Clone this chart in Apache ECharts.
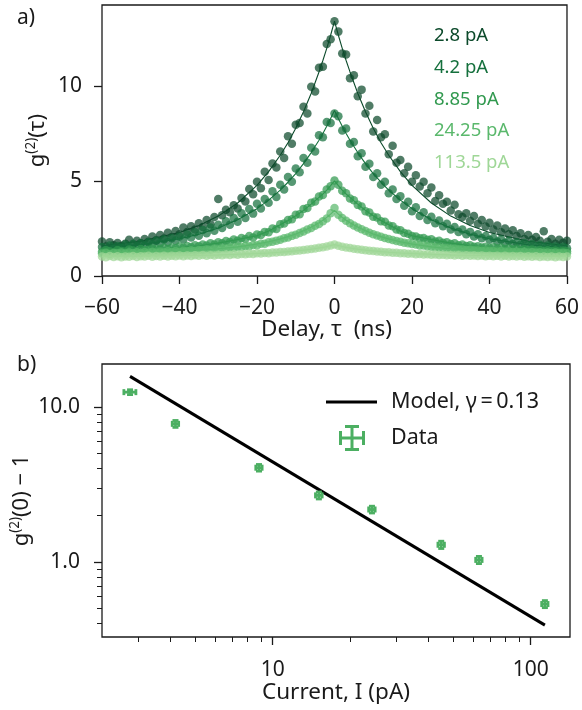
<!DOCTYPE html>
<html>
<head>
<meta charset="utf-8">
<script src="https://cdn.jsdelivr.net/npm/echarts@6/dist/echarts.min.js"></script>
<style>
html, body { margin: 0; padding: 0; background: #ffffff; }
#chart { width: 582px; height: 710px; }
</style>
</head>
<body>
<div id="chart"></div>
<script>
// ---- panel a): g2(tau) histograms, 1 ns bins ----
const DELAY_NS = [
  -60,-59,-58,-57,-56,-55,-54,-53,-52,-51,-50,-49,-48,-47,-46,-45,-44,-43,-42,-41,
  -40,-39,-38,-37,-36,-35,-34,-33,-32,-31,-30,-29,-28,-27,-26,-25,-24,-23,-22,-21,
  -20,-19,-18,-17,-16,-15,-14,-13,-12,-11,-10,-9,-8,-7,-6,-5,-4,-3,-2,-1,
  0,1,2,3,4,5,6,7,8,9,10,11,12,13,14,15,16,17,18,19,
  20,21,22,23,24,25,26,27,28,29,30,31,32,33,34,35,36,37,38,39,
  40,41,42,43,44,45,46,47,48,49,50,51,52,53,54,55,56,57,58,59,60
];

const G2_2P8 = [
  1.82,1.55,1.78,1.62,1.74,1.58,1.70,1.91,1.66,1.85,1.72,1.95,1.80,2.08,1.88,2.15,1.97,2.28,2.05,2.36,
  2.20,2.55,2.31,2.62,2.45,2.78,2.58,2.95,2.72,3.10,4.05,3.20,3.48,3.35,3.72,3.55,4.10,3.92,4.58,4.30,
  4.95,4.62,5.48,5.05,5.92,5.70,6.55,6.20,7.35,6.95,7.95,8.05,8.90,8.55,9.95,9.70,10.95,11.00,12.20,12.45,
  13.40,12.85,11.70,11.65,10.40,10.55,9.45,9.80,8.55,8.95,7.60,8.20,7.30,7.45,6.40,6.85,5.95,6.10,5.40,5.75,
  4.95,5.30,4.70,4.95,4.35,4.65,3.95,4.25,3.80,3.90,3.45,3.75,3.25,3.10,3.30,2.90,3.15,2.75,2.95,2.60,
  2.80,2.45,2.65,2.30,2.50,2.20,2.40,2.10,2.25,1.95,2.15,1.90,2.05,1.85,2.35,1.80,1.95,1.70,1.90,1.75,1.85
];

const G2_4P2 = [
  1.52,1.38,1.60,1.45,1.58,1.49,1.66,1.52,1.70,1.55,1.72,1.61,1.78,1.66,1.85,1.72,1.92,1.78,1.98,1.85,
  2.08,1.92,2.18,2.02,2.30,2.12,2.42,2.25,2.55,2.38,2.70,2.52,2.88,2.70,3.05,2.85,3.30,3.05,3.52,3.28,
  3.80,3.55,4.05,3.85,4.45,4.15,4.80,4.55,5.20,4.95,5.65,5.45,6.20,5.95,6.75,6.55,7.40,7.30,8.10,8.05,
  8.55,8.40,7.65,7.75,6.95,7.05,6.30,6.45,5.75,5.90,5.20,5.40,4.80,4.95,4.35,4.55,4.05,4.20,3.70,3.90,
  3.40,3.62,3.15,3.35,2.95,3.12,2.78,2.92,2.62,2.75,2.45,2.58,2.32,2.45,2.20,2.32,2.08,2.20,1.98,2.10,
  1.90,2.00,1.82,1.92,1.75,1.85,1.70,1.78,1.65,1.74,1.60,1.68,1.57,1.64,1.53,1.60,1.50,1.56,1.47,1.54,1.46
];

const G2_8P85 = [
  1.28,1.35,1.30,1.26,1.37,1.32,1.29,1.40,1.34,1.31,1.42,1.36,1.38,1.45,1.39,1.43,1.49,1.41,1.50,1.46,
  1.55,1.49,1.58,1.52,1.62,1.57,1.66,1.61,1.72,1.66,1.78,1.72,1.84,1.79,1.92,1.86,2.00,1.94,2.10,2.03,
  2.18,2.15,2.32,2.30,2.50,2.47,2.72,2.76,2.95,2.98,3.22,3.25,3.52,3.58,3.85,3.92,4.18,4.26,4.55,4.72,
  5.02,4.80,4.48,4.35,4.08,3.98,3.74,3.65,3.40,3.34,3.12,3.08,2.88,2.85,2.65,2.62,2.44,2.40,2.26,2.22,
  2.10,2.08,1.98,2.00,1.90,1.93,1.82,1.85,1.75,1.78,1.68,1.72,1.62,1.66,1.58,1.62,1.54,1.57,1.50,1.54,
  1.47,1.51,1.44,1.48,1.42,1.46,1.39,1.43,1.37,1.41,1.35,1.39,1.33,1.37,1.32,1.35,1.30,1.34,1.29,1.33,1.30
];

const G2_24P25 = [
  1.18,1.22,1.16,1.21,1.19,1.24,1.18,1.23,1.20,1.25,1.21,1.26,1.22,1.27,1.23,1.28,1.25,1.30,1.26,1.31,
  1.28,1.33,1.30,1.35,1.32,1.37,1.35,1.40,1.37,1.43,1.41,1.46,1.44,1.50,1.48,1.54,1.52,1.58,1.57,1.63,
  1.62,1.69,1.70,1.77,1.80,1.86,1.90,1.98,2.03,2.11,2.17,2.26,2.34,2.44,2.52,2.64,2.74,2.88,3.02,3.30,
  3.58,3.22,3.05,2.90,2.78,2.66,2.55,2.46,2.36,2.28,2.20,2.13,2.06,2.00,1.94,1.89,1.84,1.80,1.75,1.72,
  1.68,1.66,1.61,1.60,1.56,1.54,1.51,1.50,1.47,1.46,1.43,1.43,1.40,1.40,1.37,1.38,1.35,1.36,1.33,1.34,
  1.31,1.32,1.29,1.31,1.28,1.29,1.26,1.28,1.25,1.27,1.24,1.26,1.23,1.25,1.22,1.24,1.21,1.23,1.20,1.22,1.20
];

const G2_113P5 = [
  1.02,0.98,1.05,1.00,1.04,0.99,1.03,1.01,1.05,1.00,1.04,1.02,1.06,1.01,1.05,1.03,1.07,1.02,1.06,1.04,
  1.08,1.04,1.08,1.05,1.09,1.06,1.10,1.07,1.11,1.08,1.12,1.09,1.13,1.11,1.14,1.12,1.16,1.14,1.17,1.16,
  1.19,1.18,1.21,1.20,1.23,1.23,1.26,1.26,1.29,1.30,1.33,1.34,1.37,1.39,1.42,1.44,1.48,1.51,1.55,1.60,
  1.66,1.59,1.54,1.50,1.47,1.43,1.41,1.38,1.36,1.33,1.32,1.29,1.28,1.25,1.25,1.22,1.22,1.19,1.20,1.17,
  1.18,1.15,1.16,1.13,1.15,1.12,1.13,1.10,1.12,1.09,1.11,1.08,1.10,1.07,1.09,1.06,1.08,1.05,1.08,1.04,
  1.07,1.04,1.06,1.03,1.06,1.02,1.05,1.02,1.05,1.01,1.04,1.01,1.04,1.00,1.03,1.00,1.03,0.99,1.03,1.00,1.02
];

// fitted curves, sampled at these delays
const FIT_TAU = [-60,-50,-40,-35,-30,-25,-20,-17,-14,-12,-10,-8,-6,-4,-3,-2,-1,0,1,2,3,4,6,8,10,12,14,17,20,25,30,35,40,50,60];
const FIT_2P8 = [1.59,1.83,2.29,2.65,3.15,3.84,4.77,5.49,6.35,7.01,7.77,8.64,9.61,10.73,11.33,11.97,12.66,13.40,
                 12.66,11.97,11.33,10.73,9.61,8.64,7.77,7.01,6.35,5.49,4.77,3.84,3.15,2.65,2.29,1.83,1.59];
const FIT_4P2 = [1.47,1.64,1.96,2.20,2.52,2.96,3.54,3.99,4.52,4.93,5.38,5.91,6.49,7.14,7.49,7.87,8.28,8.70,
                 8.28,7.87,7.49,7.14,6.49,5.91,5.38,4.93,4.52,3.99,3.54,2.96,2.52,2.20,1.96,1.64,1.47];
const FIT_8P85 = [1.31,1.38,1.50,1.59,1.73,1.92,2.12,2.37,2.70,2.92,3.17,3.45,3.78,4.13,4.31,4.52,4.75,5.00,
                  4.75,4.52,4.31,4.13,3.78,3.45,3.17,2.92,2.70,2.37,2.12,1.92,1.73,1.59,1.50,1.38,1.31];
const FIT_24P25 = [1.20,1.24,1.31,1.36,1.43,1.53,1.68,1.80,1.95,2.07,2.21,2.38,2.57,2.80,2.93,3.08,3.25,3.45,
                   3.25,3.08,2.93,2.80,2.57,2.38,2.21,2.07,1.95,1.80,1.68,1.53,1.43,1.36,1.31,1.24,1.20];
const FIT_113P5 = [1.03,1.05,1.07,1.09,1.11,1.14,1.18,1.21,1.25,1.28,1.32,1.36,1.41,1.47,1.50,1.55,1.60,1.65,
                   1.60,1.55,1.50,1.47,1.41,1.36,1.32,1.28,1.25,1.21,1.18,1.14,1.11,1.09,1.07,1.05,1.03];

const CURRENT_LABELS = ['2.8 pA', '4.2 pA', '8.85 pA', '24.25 pA', '113.5 pA'];
const GREENS = ['#0c4a2b', '#15703d', '#31994f', '#5ab86c', '#9fd797'];

// ---- panel b): g2(0) - 1 versus current ----
const CURRENT_PA   = [2.8, 4.2, 8.85, 15.1, 24.25, 45, 63, 113.5];
const G2ZERO_M1    = [12.5, 7.8, 4.06, 2.69, 2.18, 1.29, 1.03, 0.534];
const CURRENT_ERR  = [0.15, 0.12, 0.25, 0.45, 0.7, 1.3, 1.8, 3.2];
const G2ZERO_ERR   = [0.45, 0.4, 0.2, 0.14, 0.11, 0.07, 0.055, 0.028];
const MODEL_I      = [2.8, 113.5];
const MODEL_G      = [15.8, 0.39];
const MODEL_NAME   = 'Model, \u03b3\u2009=\u20090.13';

// axis ticks
const TOP_Y_TICKS = [0, 5, 10];
const LOG_X_MAJOR = [10, 100];
const LOG_X_MINOR = [3, 4, 5, 6, 7, 8, 9, 20, 30, 40, 50, 60, 70, 80, 90];
const LOG_Y_MAJOR = [1, 10];
const LOG_Y_MINOR = [0.4, 0.5, 0.6, 0.7, 0.8, 0.9, 2, 3, 4, 5, 6, 7, 8, 9];

const FONT = 'Noto Sans';
const INK = '#1a1a1a';
const DATA_COLOR = '#4caf62';

const fitSets = [FIT_2P8, FIT_4P2, FIT_8P85, FIT_24P25, FIT_113P5];
const g2Sets = [G2_2P8, G2_4P2, G2_8P85, G2_24P25, G2_113P5];

const tickStyle = { length: 8, lineStyle: { color: INK, width: 1.3 } };
const labelStyle = { color: INK, fontFamily: FONT, fontSize: 21 };
const nameStyle = { color: INK, fontFamily: FONT, fontSize: 22.5 };
const noLine = { show: false, onZero: false };
const supRich = {
  n: { fontFamily: FONT, fontSize: 22, color: INK, lineHeight: 28 },
  s: { fontFamily: FONT, fontSize: 13.5, color: INK, lineHeight: 14, verticalAlign: 'top' }
};
const minus = v => (v < 0 ? '\u2212' + Math.abs(v) : String(v));

const series = [];
g2Sets.forEach((vals, k) => {
  series.push({
    name: CURRENT_LABELS[k],
    type: 'scatter',
    xAxisIndex: 0, yAxisIndex: 0,
    symbolSize: 8.5,
    itemStyle: { color: GREENS[k], opacity: 0.72 },
    data: DELAY_NS.map((t, i) => [t, vals[i]]),
    z: 2 + k * 2
  });
  series.push({
    name: 'fit ' + CURRENT_LABELS[k],
    type: 'line',
    xAxisIndex: 0, yAxisIndex: 0,
    showSymbol: false,
    lineStyle: { color: GREENS[k], width: 1.1 },
    data: FIT_TAU.map((t, i) => [t, fitSets[k][i]]),
    z: 3 + k * 2
  });
});

series.push({
  name: MODEL_NAME,
  type: 'line',
  xAxisIndex: 1, yAxisIndex: 1,
  showSymbol: false,
  itemStyle: { color: '#000000' },
  lineStyle: { color: '#000000', width: 3 },
  data: MODEL_I.map((v, i) => [v, MODEL_G[i]]),
  z: 3
});

series.push({
  name: 'Data',
  type: 'custom',
  xAxisIndex: 1, yAxisIndex: 1,
  itemStyle: { color: DATA_COLOR },
  encode: { x: 0, y: 1 },
  data: CURRENT_PA.map((v, i) => [v, G2ZERO_M1[i], CURRENT_ERR[i], G2ZERO_ERR[i]]),
  renderItem: function (params, api) {
    const x = api.value(0), y = api.value(1), dx = api.value(2), dy = api.value(3);
    const c = api.coord([x, y]);
    const l = api.coord([x - dx, y])[0], r = api.coord([x + dx, y])[0];
    const t = api.coord([x, y + dy])[1], b = api.coord([x, y - dy])[1];
    const cap = 3;
    const st = { stroke: DATA_COLOR, lineWidth: 2.8 };
    const seg = (x1, y1, x2, y2) => ({ type: 'line', shape: { x1, y1, x2, y2 }, style: st });
    return {
      type: 'group',
      children: [
        seg(l, c[1], r, c[1]),
        seg(c[0], t, c[0], b),
        seg(l, c[1] - cap, l, c[1] + cap),
        seg(r, c[1] - cap, r, c[1] + cap),
        seg(c[0] - cap, t, c[0] + cap, t),
        seg(c[0] - cap, b, c[0] + cap, b)
      ]
    };
  },
  z: 4
});

const option = {
  animation: false,
  backgroundColor: '#ffffff',
  title: [
    { text: 'a)', left: 12, top: 3, textStyle: { fontFamily: FONT, fontSize: 21, fontWeight: 'normal', color: INK } },
    { text: 'b)', left: 12, top: 350, textStyle: { fontFamily: FONT, fontSize: 21, fontWeight: 'normal', color: INK } }
  ],
  grid: [
    { left: 102, top: 5, width: 467, height: 271, show: true, borderColor: INK, borderWidth: 1.3, backgroundColor: 'transparent' },
    { left: 102, top: 364, width: 468, height: 273, show: true, borderColor: INK, borderWidth: 1.3, backgroundColor: 'transparent' }
  ],
  legend: [
    {
      left: 424, top: 21, orient: 'vertical', selectedMode: false,
      itemWidth: 0, itemHeight: 14, itemGap: 11.7,
      itemStyle: { opacity: 0 },
      textStyle: { fontFamily: FONT, fontSize: 18.5, lineHeight: 20 },
      data: CURRENT_LABELS.map((n, k) => ({ name: n, textStyle: { color: GREENS[k] } }))
    },
    {
      left: 321, top: 386, selectedMode: false,
      icon: 'rect', itemWidth: 51, itemHeight: 3,
      textStyle: { fontFamily: FONT, fontSize: 21.5, color: INK, lineHeight: 22, padding: [0, 0, 0, 9] },
      data: [MODEL_NAME]
    },
    {
      left: 334, top: 420, selectedMode: false,
      icon: 'path://M0,11.5H26V14.5H0Z M11.5,0H14.5V26H11.5Z M0,6H3V20H0Z M23,6H26V20H23Z M6,0H20V3H6Z M6,23H20V26H6Z',
      itemWidth: 26, itemHeight: 26,
      textStyle: { fontFamily: FONT, fontSize: 21.5, color: INK, padding: [0, 0, 0, 21] },
      data: ['Data']
    }
  ],
  xAxis: [
    {
      type: 'value', gridIndex: 0, min: -60, max: 60, interval: 20,
      axisLine: noLine, splitLine: { show: false },
      axisTick: tickStyle,
      axisLabel: Object.assign({ margin: 22, formatter: minus }, labelStyle),
      name: 'Delay, \u03c4  (ns)', nameLocation: 'middle', nameGap: 42, nameMoveOverlap: false,
      nameTextStyle: Object.assign({ padding: [0, 16, 0, 0] }, nameStyle)
    },
    {
      type: 'log', gridIndex: 1, min: 2.18, max: 142, position: 'bottom',
      axisLine: noLine, splitLine: { show: false },
      axisTick: Object.assign({ customValues: LOG_X_MAJOR }, tickStyle),
      axisLabel: Object.assign({ margin: 23, customValues: LOG_X_MAJOR }, labelStyle),
      name: 'Current, I (pA)', nameLocation: 'middle', nameGap: 44, nameMoveOverlap: false,
      nameTextStyle: nameStyle
    },
    {
      type: 'log', gridIndex: 1, min: 2.18, max: 142, position: 'bottom',
      axisLine: noLine, splitLine: { show: false },
      axisTick: { customValues: LOG_X_MINOR, length: 5, lineStyle: { color: INK, width: 1 } },
      axisLabel: { show: false }
    }
  ],
  yAxis: [
    {
      type: 'value', gridIndex: 0, min: 0, max: 14.25,
      axisLine: noLine, splitLine: { show: false },
      axisTick: Object.assign({ customValues: TOP_Y_TICKS }, tickStyle),
      axisLabel: Object.assign({ margin: 20, customValues: TOP_Y_TICKS }, labelStyle),
      name: '{n|g}{s|(2)}{n|(\u03c4)}', nameLocation: 'middle', nameGap: 50, nameMoveOverlap: false,
      nameTextStyle: { rich: supRich }
    },
    {
      type: 'log', gridIndex: 1, min: 0.327, max: 19, position: 'left',
      axisLine: noLine, splitLine: { show: false },
      axisTick: Object.assign({ customValues: LOG_Y_MAJOR }, tickStyle),
      axisLabel: Object.assign({ margin: 22, customValues: LOG_Y_MAJOR, formatter: v => Number(v).toFixed(1) }, labelStyle),
      name: '{n|g}{s|(2)}{n|(0) \u2212 1}', nameLocation: 'middle', nameGap: 66, nameMoveOverlap: false,
      nameTextStyle: { rich: supRich }
    },
    {
      type: 'log', gridIndex: 1, min: 0.327, max: 19, position: 'left',
      axisLine: noLine, splitLine: { show: false },
      axisTick: { customValues: LOG_Y_MINOR, length: 5, lineStyle: { color: INK, width: 1 } },
      axisLabel: { show: false }
    }
  ],
  series: series
};

const chart = echarts.init(document.getElementById('chart'), null, { renderer: 'canvas' });
chart.setOption(option);
</script>
</body>
</html>
